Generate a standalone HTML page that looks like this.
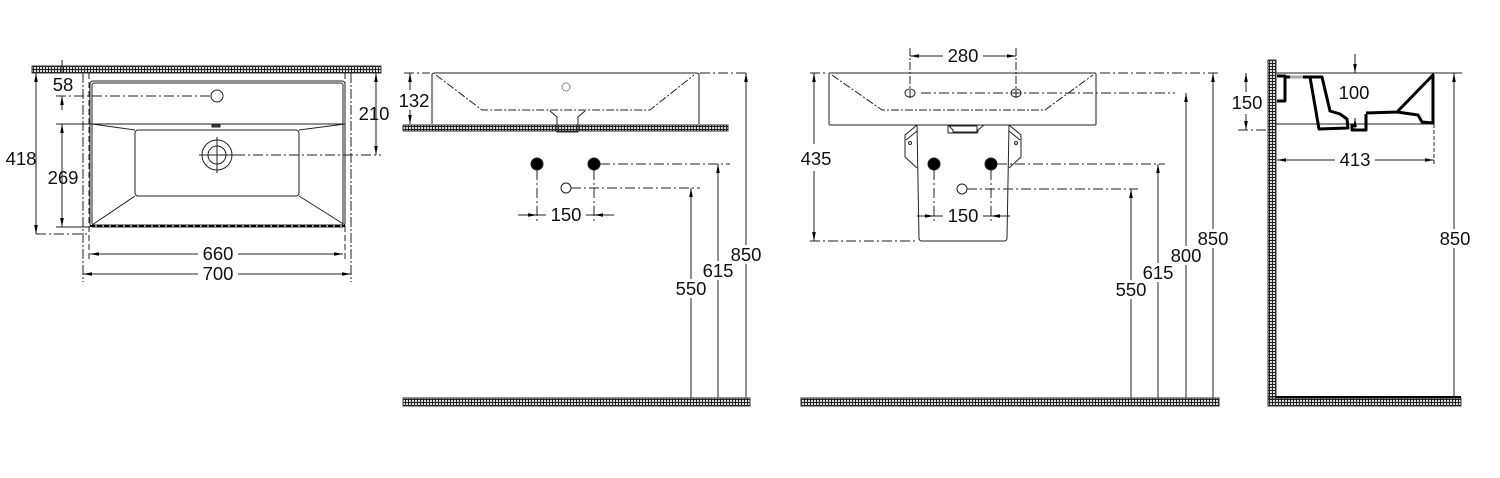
<!DOCTYPE html>
<html><head><meta charset="utf-8"><style>
html,body{margin:0;padding:0;background:#fff;}
svg{display:block;}
text{font-family:"Liberation Sans",sans-serif;font-size:18.5px;fill:#111;}
</style></head><body>
<svg width="1500" height="478" viewBox="0 0 1500 478" xmlns="http://www.w3.org/2000/svg">
<defs>
<pattern id="h" width="3" height="3" patternUnits="userSpaceOnUse">
<rect width="3" height="3" fill="#ddd"/><path d="M0 .5H3M.5 0V3" stroke="#222" stroke-width="1"/>
</pattern>
<marker id="a" viewBox="0 0 10 10" refX="10" refY="5" markerWidth="9" markerHeight="9" orient="auto-start-reverse" markerUnits="userSpaceOnUse"><path d="M0 3L10 5L0 7z" fill="#000"/></marker>
</defs>
<g fill="none" stroke="#222" stroke-width="1">
<!-- VIEW 1 -->
<rect x="32" y="66" width="349" height="7" fill="url(#h)" stroke="#333"/>
<line x1="83" y1="73" x2="83" y2="282" stroke-dasharray="10 2 2 2"/>
<line x1="351" y1="73" x2="351" y2="282" stroke-dasharray="10 2 2 2"/>
<line x1="89" y1="73" x2="89" y2="262" stroke-dasharray="6 3"/>
<line x1="345" y1="73" x2="345" y2="262" stroke-dasharray="6 3"/>
<rect x="90" y="81" width="255" height="146" rx="3"/>
<rect x="92" y="83" width="251" height="142" rx="2"/>
<line x1="90" y1="124" x2="345" y2="124"/>
<line x1="90" y1="226" x2="345" y2="226" stroke="#000" stroke-width="2" stroke-dasharray="5 2"/>
<rect x="135" y="130" width="164" height="66" rx="3"/>
<path d="M92 124L135 130M345 124L299 130M92 225L135 196M345 225L299 196"/>
<circle cx="217" cy="96" r="6"/>
<circle cx="217" cy="155" r="15"/><circle cx="217" cy="155" r="9"/>
<path d="M217 137V173M199 155H235"/>
<rect x="212" y="125" width="8" height="2" fill="#444"/>
<path d="M56 96H211M235 155H381" stroke-dasharray="10 3 2 3"/>
<path d="M36 234H88" stroke-dasharray="10 3 2 3"/>
<line x1="36" y1="73" x2="36" y2="234" marker-start="url(#a)" marker-end="url(#a)"/>
<line x1="62" y1="60" x2="62" y2="73"/>
<line x1="62" y1="110" x2="62" y2="96" marker-end="url(#a)"/>
<line x1="62" y1="124" x2="62" y2="227" marker-start="url(#a)" marker-end="url(#a)"/>
<line x1="56" y1="124" x2="90" y2="124"/><line x1="56" y1="227" x2="90" y2="227"/>
<line x1="376" y1="73" x2="376" y2="155" marker-start="url(#a)" marker-end="url(#a)"/>
<line x1="90" y1="254" x2="198" y2="254" marker-start="url(#a)"/><line x1="238" y1="254" x2="343" y2="254" marker-end="url(#a)"/>
<line x1="83" y1="274" x2="198" y2="274" marker-start="url(#a)"/><line x1="238" y1="274" x2="351" y2="274" marker-end="url(#a)"/>

<!-- VIEW 2 -->
<rect x="403" y="125" width="325" height="6" fill="url(#h)" stroke="#333"/>
<path d="M432 124V74L434 73H697L699 74V124"/>
<path d="M436 75L482 110H650L694 75" stroke-dasharray="8 2 2 2"/>
<path d="M550 111L557 117V132H578V117L585 111"/>
<circle cx="566" cy="87" r="4" stroke="#888"/>
<path d="M404 73H430M700 73H748" stroke-dasharray="10 3 2 3"/>
<line x1="410" y1="73" x2="410" y2="90" marker-start="url(#a)"/><line x1="410" y1="110" x2="410" y2="124" marker-end="url(#a)"/>
<circle cx="537" cy="164" r="6" fill="#000"/><circle cx="594" cy="164" r="6" fill="#000"/>
<circle cx="566" cy="188" r="5"/>
<path d="M537 170V222M594 170V222" stroke-dasharray="10 3 2 3"/>
<path d="M600 164H730M571 188H700" stroke-dasharray="10 3 2 3"/>
<line x1="518" y1="215" x2="537" y2="215" marker-end="url(#a)"/><line x1="614" y1="215" x2="594" y2="215" marker-end="url(#a)"/>
<line x1="537" y1="215" x2="546" y2="215"/><line x1="586" y1="215" x2="594" y2="215"/>
<line x1="691" y1="398" x2="691" y2="298"/><line x1="691" y1="279" x2="691" y2="188" marker-end="url(#a)"/>
<line x1="718" y1="398" x2="718" y2="280"/><line x1="718" y1="261" x2="718" y2="164" marker-end="url(#a)"/>
<line x1="746" y1="398" x2="746" y2="264"/><line x1="746" y1="245" x2="746" y2="73" marker-end="url(#a)"/>
<rect x="403" y="398" width="347" height="8" fill="url(#h)" stroke="#333"/>

<!-- VIEW 3 -->
<rect x="829" y="73" width="267" height="52" rx="1"/>
<path d="M832 75L882 110H1045L1093 75" stroke-dasharray="8 2 2 2"/>
<ellipse cx="910" cy="93" rx="5" ry="4"/><ellipse cx="1016" cy="93" rx="5" ry="4"/>
<path d="M910 48V98M1016 48V98" stroke-dasharray="8 2 2 2"/>
<line x1="910" y1="56" x2="943" y2="56" marker-start="url(#a)"/><line x1="983" y1="56" x2="1016" y2="56" marker-end="url(#a)"/>
<path d="M921 93H1175M1100 73H1220" stroke-dasharray="10 3 2 3"/>
<path d="M948 125L953 130V132H978V130L984 125"/><rect x="948" y="126" width="29" height="7"/>
<path d="M917 125L919 238Q919 241 922 241H1004Q1007 241 1007 238L1009 125"/>
<path d="M917 125L905 135L905 157L917 168M917 131L906 140"/>
<path d="M1009 125L1021 135L1021 157L1009 168M1009 131L1020 140"/>
<circle cx="910" cy="143" r="1.5"/><circle cx="1016" cy="143" r="1.5"/>
<circle cx="934" cy="164" r="6" fill="#000"/><circle cx="991" cy="164" r="6" fill="#000"/>
<circle cx="962" cy="189" r="5"/>
<path d="M934 170V222M991 170V222" stroke-dasharray="10 3 2 3"/>
<path d="M997 164H1165M967 189H1138" stroke-dasharray="10 3 2 3"/>
<line x1="917" y1="216" x2="934" y2="216" marker-end="url(#a)"/><line x1="1010" y1="216" x2="991" y2="216" marker-end="url(#a)"/>
<line x1="934" y1="216" x2="943" y2="216"/><line x1="983" y1="216" x2="991" y2="216"/>
<path d="M810 73H825M810 241H917" stroke-dasharray="10 3 2 3"/>
<line x1="814" y1="73" x2="814" y2="144" marker-start="url(#a)"/><line x1="814" y1="171" x2="814" y2="241" marker-end="url(#a)"/>
<line x1="1131" y1="398" x2="1131" y2="299"/><line x1="1131" y1="280" x2="1131" y2="189" marker-end="url(#a)"/>
<line x1="1158" y1="398" x2="1158" y2="282"/><line x1="1158" y1="263" x2="1158" y2="164" marker-end="url(#a)"/>
<line x1="1186" y1="398" x2="1186" y2="265"/><line x1="1186" y1="246" x2="1186" y2="93" marker-end="url(#a)"/>
<line x1="1213" y1="398" x2="1213" y2="248"/><line x1="1213" y1="229" x2="1213" y2="73" marker-end="url(#a)"/>
<rect x="801" y="398" width="418" height="8" fill="url(#h)" stroke="#333"/>

<!-- VIEW 4 -->
<rect x="1268" y="60" width="8" height="346" fill="url(#h)" stroke="#333"/>
<rect x="1268" y="398" width="193" height="8" fill="url(#h)" stroke="#333"/>
<line x1="1276" y1="397" x2="1461" y2="397" stroke="#000" stroke-width="2"/>
<line x1="1276" y1="73" x2="1462" y2="73"/>
<path d="M1238 130H1276" stroke-dasharray="10 3 2 3"/>
<line x1="1276" y1="124" x2="1434" y2="124"/>
<g stroke="#000" stroke-width="3" stroke-linejoin="round">
<path d="M1277 76H1285V101H1277"/>
<path d="M1285 77H1290M1303 77H1310"/>
<path d="M1310 77H1322L1330 111L1340 114L1347 119L1348 128L1319 129Z"/>
<path d="M1366 114V130H1352V124"/>
<path d="M1366 113L1397 112L1433 75V123L1422 122L1418 115L1397 112"/>
</g>
<line x1="1290" y1="77" x2="1303" y2="77" stroke="#aaa" stroke-width="3"/>
<line x1="1246" y1="73" x2="1246" y2="92" marker-start="url(#a)"/><line x1="1246" y1="114" x2="1246" y2="130" marker-end="url(#a)"/>
<line x1="1355" y1="54" x2="1355" y2="73" marker-end="url(#a)"/>
<line x1="1355" y1="130" x2="1355" y2="118" marker-end="url(#a)"/>
<line x1="1434" y1="124" x2="1434" y2="166" stroke-dasharray="4 2"/>
<line x1="1277" y1="160" x2="1335" y2="160" marker-start="url(#a)"/><line x1="1375" y1="160" x2="1434" y2="160" marker-end="url(#a)"/>
<line x1="1454" y1="398" x2="1454" y2="248"/><line x1="1454" y1="229" x2="1454" y2="73" marker-end="url(#a)"/>
</g>
<g text-anchor="middle">
<text x="63" y="91">58</text>
<text x="21" y="165">418</text>
<text x="63" y="184">269</text>
<text x="374" y="120">210</text>
<text x="218" y="260">660</text>
<text x="218" y="280">700</text>
<text x="414" y="107">132</text>
<text x="566" y="221">150</text>
<text x="691" y="295">550</text>
<text x="718" y="277">615</text>
<text x="746" y="261">850</text>
<text x="963" y="62">280</text>
<text x="816" y="165">435</text>
<text x="963" y="222">150</text>
<text x="1131" y="296">550</text>
<text x="1158" y="279">615</text>
<text x="1186" y="262">800</text>
<text x="1213" y="245">850</text>
<text x="1247" y="109">150</text>
<text x="1354" y="99">100</text>
<text x="1355" y="166">413</text>
<text x="1455" y="245">850</text>
</g>
</svg>
</body></html>
